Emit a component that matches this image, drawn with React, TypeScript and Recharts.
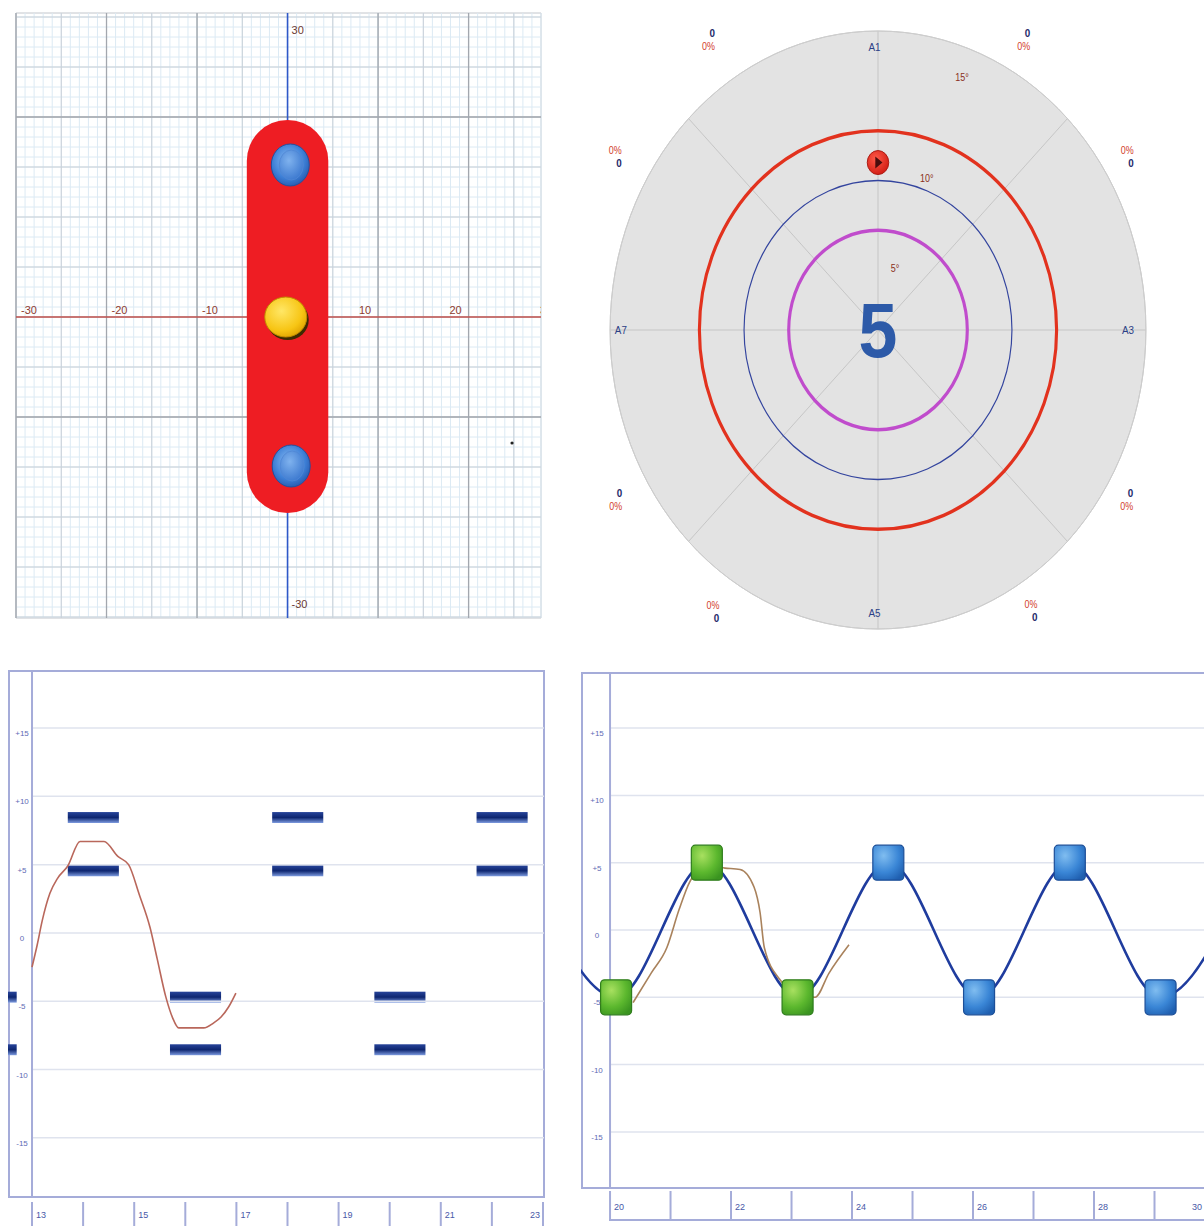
import React from 'react';
import {
  ComposedChart, Line, Scatter, XAxis, YAxis, ReferenceLine, ReferenceArea,
  RadarChart, Radar, PolarGrid, PolarAngleAxis, PolarRadiusAxis, Customized,
} from 'recharts';

const FONT = '"Liberation Sans", Arial, sans-serif';
const FRAME = '#a5acd9';

// ---- top left: position plane ----
const planeXTicks = [-30, -20, -10, 10, 20, 30];
const planeYTicks = [30, -30];
const capsuleX = [-4.5, 4.5];
const capsuleY = [-19.6, 19.7];
const sensorX = [0.3, -0.2, 0.4];
const sensorY = [15.2, 0, -14.9];
const sensorKind = ['end', 'center', 'end'];
const strayX = [24.8];
const strayY = [-12.6];

// ---- top right: tilt target ----
const targetAxes = ['A1', 'A2', 'A3', 'A4', 'A5', 'A6', 'A7', 'A8'];
const labelledAxes = ['A1', 'A3', 'A5', 'A7'];
const markerValue = [16.8, 0, 0, 0, 0, 0, 0, 0];
const ringValues = [10, 15, 20];
const ringLabels = ['5°', '10°', '15°'];
const sectorCounts = [0, 0, 0, 0, 0, 0, 0, 0];
const sectorPercents = [0, 0, 0, 0, 0, 0, 0, 0];
const centerValue = 5;

// ---- bottom left: gate trace ----
const traceAX = [13.0, 13.1, 13.2, 13.35, 13.5, 13.7, 13.94, 14.41, 14.68, 14.89, 15.1, 15.31, 15.45, 15.62, 15.75, 15.87, 16.36, 16.55, 16.7, 16.85, 16.99];
const traceAY = [-2.5, -0.9, 0.9, 2.9, 4.0, 4.9, 6.7, 6.7, 5.6, 5.0, 2.8, 0.4, -1.9, -4.7, -6.2, -6.95, -6.95, -6.6, -6.15, -5.4, -4.4];
const gateStarts = [11.7, 13.7, 15.7, 17.7, 19.7, 21.7];
const gateSide = ['low', 'high', 'low', 'high', 'low', 'high'];
const gateHigh = [8.45, 4.55];
const gateLow = [-4.7, -8.55];
const timeTicksA = [13, 14, 15, 16, 17, 18, 19, 20, 21, 22, 23];

// ---- bottom right: wave trace ----
const waveX = [18.6, 20.1, 21.6, 23.1, 24.6, 26.1, 27.6, 29.1, 30.6];
const waveY = [5, -5, 5, -5, 5, -5, 5, -5, 5];
const stepX = [20.1, 21.6, 23.1, 24.6, 26.1, 27.6, 29.1];
const stepY = [-5, 5, -5, 5, -5, 5, -5];
const stepDone = [true, true, true, false, false, false, false];
const traceBX = [20.38, 20.68, 20.94, 21.14, 21.32, 21.49, 21.7, 21.9, 22.15, 22.38, 22.48, 22.55, 22.81, 23.07, 23.39, 23.62, 23.95];
const traceBY = [-5.4, -3.2, -1.3, 1.5, 3.6, 4.5, 4.7, 4.6, 4.5, 3.2, 1.3, -1.3, -3.7, -4.7, -5.0, -3.2, -1.1];
const timeTicksB = [20, 21, 22, 23, 24, 25, 26, 27, 28, 29, 30];

const levelTicks = [15, 10, 5, 0, -5, -10, -15];

const range = (a: number, b: number, s: number) => {
  const out: number[] = [];
  for (let v = a; v <= b; v += s) out.push(v);
  return out;
};

// ---------- top left ----------
const PLANE_W = 560;
const PLANE_H = 640;
const PLANE_MARGIN = { top: 13, right: 19, bottom: 22, left: 16 };
const PLANE_XDOM: [number, number] = [-30, 28];
const PLANE_YDOM: [number, number] = [-30.1, 30.4];

const Capsule = (p: any) => {
  const r = p.width / 2;
  return <rect x={p.x} y={p.y} width={p.width} height={p.height} rx={r} ry={r} fill="#ee1d23" />;
};

const SensorDot = (p: any) => {
  const { cx, cy, payload } = p;
  if (payload.kind === 'center') {
    return (
      <g>
        <ellipse cx={cx + 2} cy={cy + 3} rx={21} ry={20} fill="#3d2b00" />
        <ellipse cx={cx} cy={cy} rx={21} ry={20} fill="url(#sensorYellow)" stroke="#c08a00" />
      </g>
    );
  }
  return (
    <g>
      <ellipse cx={cx} cy={cy} rx={19} ry={21} fill="url(#sensorBlue)" stroke="#24509e" />
      <ellipse cx={cx + 1} cy={cy} rx={12} ry={15} fill="url(#sensorBlueIn)" stroke="#4f86d4" strokeWidth={0.8} />
    </g>
  );
};

const StrayDot = (p: any) => <circle cx={p.cx} cy={p.cy} r={1.6} fill="#222" />;

const PlaneLabel = (p: any) => {
  const { cx, cy, payload } = p;
  if (payload.axis === 'x') {
    const dx = payload.x < 0 ? 13 : -13;
    return (
      <text x={cx + dx} y={cy - 3} textAnchor="middle" fontSize={11} fill="#8e3b2f" fontFamily={FONT}>
        {payload.text}
      </text>
    );
  }
  const dy = payload.y > 0 ? 13 : -13;
  return (
    <text x={cx + 4} y={cy + dy + 4} fontSize={11} fill="#6e3a33" fontFamily={FONT}>
      {payload.text}
    </text>
  );
};

// paper grid, axes and labels (bottom layer)
function PlaneGrid() {
  const labels = [
    ...planeXTicks.map((x) => ({ x, y: 0, text: String(x), axis: 'x' })),
    ...planeYTicks.map((y) => ({ x: 0, y, text: String(y), axis: 'y' })),
  ];
  const minorX = range(-30, 28, 1);
  const minorY = range(-30, 30, 1);
  const midX = range(-30, 25, 5);
  const midY = range(-30, 30, 5);
  const majorX = [-30, -20, -10, 10, 20];
  const majorY = [20, -10];

  return (
    <ComposedChart width={PLANE_W} height={PLANE_H} margin={PLANE_MARGIN}>
      <XAxis type="number" dataKey="x" domain={PLANE_XDOM} allowDataOverflow hide />
      <YAxis type="number" dataKey="y" domain={PLANE_YDOM} allowDataOverflow hide />
      {minorX.map((v) => <ReferenceLine key={`nx${v}`} x={v} stroke="#dceaf4" />)}
      {minorY.map((v) => <ReferenceLine key={`ny${v}`} y={v} stroke="#dceaf4" />)}
      {midX.map((v) => <ReferenceLine key={`mx${v}`} x={v} stroke="#c9d0d8" />)}
      {midY.map((v) => <ReferenceLine key={`my${v}`} y={v} stroke="#c9d0d8" />)}
      {majorX.map((v) => <ReferenceLine key={`jx${v}`} x={v} stroke="#a3a7ae" strokeWidth={1.3} />)}
      {majorY.map((v) => <ReferenceLine key={`jy${v}`} y={v} stroke="#a3a7ae" strokeWidth={1.3} />)}
      <ReferenceLine y={0} stroke="#c0504d" strokeWidth={1.6} />
      <ReferenceLine x={0} stroke="#2f58c8" strokeWidth={1.6} />
      <ReferenceArea x1={PLANE_XDOM[0]} x2={PLANE_XDOM[1]} y1={PLANE_YDOM[0]} y2={PLANE_YDOM[1]} fill="none" stroke="#c2c6cc" />
      <Scatter data={labels} dataKey="y" shape={PlaneLabel} isAnimationActive={false} />
    </ComposedChart>
  );
}

// link and sensors (top layer, same scales)
function PlaneMarks() {
  const sensors = sensorX.map((x, i) => ({ x, y: sensorY[i], kind: sensorKind[i] }));
  const stray = strayX.map((x, i) => ({ x, y: strayY[i] }));
  return (
    <ComposedChart width={PLANE_W} height={PLANE_H} margin={PLANE_MARGIN}>
      <XAxis type="number" dataKey="x" domain={PLANE_XDOM} allowDataOverflow hide />
      <YAxis type="number" dataKey="y" domain={PLANE_YDOM} allowDataOverflow hide />
      <ReferenceArea x1={capsuleX[0]} x2={capsuleX[1]} y1={capsuleY[0]} y2={capsuleY[1]} shape={Capsule} />
      <Scatter data={stray} dataKey="y" shape={StrayDot} isAnimationActive={false} />
      <Scatter data={sensors} dataKey="y" shape={SensorDot} isAnimationActive={false} />
    </ComposedChart>
  );
}

// ---------- top right ----------
const CX = 350;
const CY = 330;
const R = 299;
const MAX_R = 30;
const ringColors = ['#c04ccc', '#33449e', '#e2321e'];
const ringWidths = [3.5, 1.3, 3.5];
const RING_LABEL_POS = [[64, 17.3], [161, 19.8], [269, 20.4]];
const SECTOR_ANGLES = [29, 58, 121.6, 149, 213.4, 240, 300.4, 326.6];
const SECTOR_RADII = [332, 326, 324, 328, 338, 340, 342, 347];
const COUNT_ON_TOP = [true, false, true, false, false, true, false, true];

const polar = (r: number, deg: number) => ({
  x: CX + r * Math.sin((deg * Math.PI) / 180),
  y: CY - r * Math.cos((deg * Math.PI) / 180),
});

const MarkerDot = (p: any) => {
  const { cx, cy, index } = p;
  if (!markerValue[index]) return <g key={`m${index}`} />;
  return (
    <g key={`m${index}`}>
      <circle cx={cx} cy={cy} r={12} fill="url(#markerRed)" stroke="#a81810" />
      <path d={`M${cx - 3},${cy - 6} L${cx + 5},${cy} L${cx - 3},${cy + 6} Z`} fill="#4a0d0d" />
    </g>
  );
};

const TargetOverlay = () => (
  <g fontFamily={FONT}>
    <text x={CX} y={CY + 27} textAnchor="middle" fontSize={78} fontWeight="bold" fill="#2d5aa8">
      {centerValue}
    </text>
    {ringLabels.map((t, i) => {
      const q = polar(RING_LABEL_POS[i][0], RING_LABEL_POS[i][1]);
      return (
        <text key={t} x={q.x} y={q.y + 3} textAnchor="middle" fontSize={10} fill="#8a3020">
          {t}
        </text>
      );
    })}
    {targetAxes.map((a, i) => {
      if (!labelledAxes.includes(a)) return null;
      const q = polar(283, i * 45);
      return (
        <text key={a} x={q.x - 4} y={q.y + 4} textAnchor="middle" fontSize={11} fill="#2b3f86">
          {a}
        </text>
      );
    })}
    {SECTOR_ANGLES.map((ang, i) => {
      const q = polar(SECTOR_RADII[i], ang);
      const top = q.y - 3;
      const bottom = q.y + 10;
      const countY = COUNT_ON_TOP[i] ? top : bottom;
      const pctY = COUNT_ON_TOP[i] ? bottom : top;
      return (
        <g key={`s${i}`}>
          <text x={q.x + 9} y={countY} textAnchor="end" fontSize={11} fontWeight="bold" fill="#1e2a6a">
            {sectorCounts[i]}
          </text>
          <text x={q.x + 9} y={pctY} textAnchor="end" fontSize={10} fill="#d2402c">
            {`${sectorPercents[i]}%`}
          </text>
        </g>
      );
    })}
  </g>
);

function TargetChart() {
  const data = targetAxes.map((a, i) => ({ axis: a, marker: markerValue[i] }));
  return (
    <div
      style={{
        position: 'absolute', left: 878 - CX, top: 0, width: 700, height: 660,
        transform: 'scaleX(0.896)', transformOrigin: `${CX}px ${CY}px`,
      }}
    >
      <div
        style={{
          position: 'absolute', left: CX - R, top: CY - R, width: 2 * R, height: 2 * R,
          borderRadius: '50%', background: '#e3e3e3',
        }}
      />
      <div style={{ position: 'absolute', left: 0, top: 0 }}>
        <RadarChart width={700} height={660} cx={CX} cy={CY} outerRadius={R} data={data} margin={{ top: 0, right: 0, bottom: 0, left: 0 }}>
          <PolarGrid gridType="circle" polarRadius={[R]} stroke="#c4c4c4" />
          {ringValues.map((v, i) => (
            <PolarGrid
              key={`ring${v}`}
              gridType="circle"
              radialLines={false}
              polarRadius={[(R * v) / MAX_R]}
              stroke={ringColors[i]}
              strokeWidth={ringWidths[i]}
            />
          ))}
          <PolarAngleAxis dataKey="axis" tick={false} tickLine={false} axisLineType="circle" stroke="#cdcdcd" />
          <PolarRadiusAxis domain={[0, MAX_R]} tick={false} axisLine={false} />
          <Customized component={TargetOverlay} />
          <Radar dataKey="marker" stroke="none" fill="none" dot={MarkerDot} isAnimationActive={false} />
        </RadarChart>
      </div>
    </div>
  );
}

// ---------- bottom panels ----------
const fmtLevel = (v: number) => (v > 0 ? `+${v}` : `${v}`);

const LevelTick = (p: any) => (
  <text x={p.lx} y={p.y + 8} textAnchor="middle" fontSize={8} fill="#5f6bb5" fontFamily={FONT}>
    {fmtLevel(p.payload.value)}
  </text>
);

const TimeTick = (p: any) => {
  const { x, y, payload, odd, last, lastShift, t0, t1, ty } = p;
  const v = payload.value;
  const show = odd ? v % 2 === 1 : v % 2 === 0;
  const isLast = v === last;
  return (
    <g>
      <line x1={x} x2={x} y1={y + t0} y2={y + t1} stroke={FRAME} strokeWidth={2} />
      {show && (
        <text
          x={isLast ? x - lastShift : x + 4}
          y={y + ty}
          textAnchor={isLast ? 'end' : 'start'}
          fontSize={9}
          fill="#4858a8"
          fontFamily={FONT}
        >
          {v}
        </text>
      )}
    </g>
  );
};

const GateBar = (p: any) => (
  <rect x={p.x} y={p.y} width={p.width} height={p.height} fill="url(#gateGrad)" />
);

function GateChart() {
  const trace = traceAX.map((x, i) => ({ x, y: traceAY[i] }));
  const gates = gateStarts.flatMap((x0, i) =>
    (gateSide[i] === 'high' ? gateHigh : gateLow).map((y) => ({ x0, y })),
  );
  return (
    <ComposedChart width={536} height={556} margin={{ top: 0, right: 0, bottom: 0, left: 0 }}>
      <XAxis
        type="number" dataKey="x" domain={[12.53, 23.02]} allowDataOverflow
        ticks={timeTicksA} interval={0} height={29} tickSize={0} tickMargin={0}
        axisLine={{ stroke: FRAME, strokeWidth: 2 }} tickLine={false}
        tick={(p: any) => <TimeTick {...p} odd last={23} lastShift={3} t0={5} t1={29} ty={21} />}
      />
      <YAxis
        type="number" dataKey="y" domain={[-19.33, 19.25]} allowDataOverflow
        ticks={levelTicks} interval={0} mirror axisLine={false} tickLine={false}
        tick={(p: any) => <LevelTick {...p} lx={14} />}
      />
      {levelTicks.map((v) => (
        <ReferenceLine key={`g${v}`} segment={[{ x: 13, y: v }, { x: 23.02, y: v }]} stroke="#dfe3ee" strokeWidth={1.5} />
      ))}
      <ReferenceLine x={13} stroke={FRAME} strokeWidth={2} />
      {gates.map((g, i) => (
        <ReferenceArea
          key={`bar${i}`} x1={g.x0} x2={g.x0 + 1} y1={g.y - 0.4} y2={g.y + 0.4}
          ifOverflow="hidden" shape={GateBar}
        />
      ))}
      <Line data={trace} dataKey="y" type="monotone" stroke="#b9675b" strokeWidth={1.6} dot={false} isAnimationActive={false} />
    </ComposedChart>
  );
}

const StepSquare = (p: any) => {
  const { cx, cy, payload } = p;
  const done = payload.done;
  return (
    <rect
      x={cx - 15.5} y={cy - 17.5} width={31} height={35} rx={4}
      fill={done ? 'url(#sqGreen)' : 'url(#sqBlue)'}
      stroke={done ? '#2f7d1c' : '#1d4f98'} strokeWidth={1.2}
    />
  );
};

function WaveChart() {
  const wave = waveX.map((x, i) => ({ x, y: waveY[i] }));
  const steps = stepX.map((x, i) => ({ x, y: stepY[i], done: stepDone[i] }));
  const trace = traceBX.map((x, i) => ({ x, y: traceBY[i] }));
  return (
    <ComposedChart width={634} height={554} margin={{ top: 0, right: 0, bottom: 0, left: 0 }}>
      <XAxis
        type="number" dataKey="x" domain={[19.52, 30]} allowDataOverflow
        ticks={timeTicksB} interval={0} height={38} tickSize={0} tickMargin={0}
        axisLine={{ stroke: FRAME, strokeWidth: 2 }} tickLine={false}
        tick={(p: any) => <TimeTick {...p} odd={false} last={30} lastShift={13} t0={3} t1={31} ty={22} />}
      />
      <YAxis
        type="number" dataKey="y" domain={[-19.17, 19.17]} allowDataOverflow
        ticks={levelTicks} interval={0} mirror axisLine={false} tickLine={false}
        tick={(p: any) => <LevelTick {...p} lx={16} />}
      />
      {levelTicks.map((v) => (
        <ReferenceLine key={`g${v}`} segment={[{ x: 20, y: v }, { x: 30, y: v }]} stroke="#dfe3ee" strokeWidth={1.5} />
      ))}
      <ReferenceLine x={20} stroke={FRAME} strokeWidth={2} />
      <Line data={wave} dataKey="y" type="monotone" stroke="#1f3c9e" strokeWidth={2.6} dot={false} isAnimationActive={false} />
      <Line data={trace} dataKey="y" type="monotone" stroke="#a9825c" strokeWidth={1.6} dot={false} isAnimationActive={false} />
      <Scatter data={steps} dataKey="y" shape={StepSquare} isAnimationActive={false} />
    </ComposedChart>
  );
}

function Gradients() {
  return (
    <svg width={0} height={0} style={{ position: 'absolute' }}>
      <defs>
        <radialGradient id="sensorBlue" cx="45%" cy="40%" r="60%">
          <stop offset="0%" stopColor="#8fc0f5" />
          <stop offset="70%" stopColor="#3d7fd6" />
          <stop offset="100%" stopColor="#2a5fb5" />
        </radialGradient>
        <radialGradient id="sensorBlueIn" cx="40%" cy="35%" r="70%">
          <stop offset="0%" stopColor="#7fb2ee" />
          <stop offset="100%" stopColor="#3b78cf" />
        </radialGradient>
        <radialGradient id="sensorYellow" cx="40%" cy="35%" r="70%">
          <stop offset="0%" stopColor="#ffe766" />
          <stop offset="70%" stopColor="#f7c514" />
          <stop offset="100%" stopColor="#e0a200" />
        </radialGradient>
        <radialGradient id="markerRed" cx="40%" cy="35%" r="70%">
          <stop offset="0%" stopColor="#ff5a48" />
          <stop offset="100%" stopColor="#d01a12" />
        </radialGradient>
        <linearGradient id="gateGrad" x1="0" y1="0" x2="0" y2="1">
          <stop offset="0%" stopColor="#27449a" />
          <stop offset="50%" stopColor="#0e2670" />
          <stop offset="100%" stopColor="#7d9be0" />
        </linearGradient>
        <radialGradient id="sqGreen" cx="35%" cy="30%" r="80%">
          <stop offset="0%" stopColor="#a8e060" />
          <stop offset="60%" stopColor="#5cb82e" />
          <stop offset="100%" stopColor="#3a9420" />
        </radialGradient>
        <radialGradient id="sqBlue" cx="35%" cy="30%" r="80%">
          <stop offset="0%" stopColor="#80bdf0" />
          <stop offset="60%" stopColor="#3a86d6" />
          <stop offset="100%" stopColor="#1f5fb0" />
        </radialGradient>
      </defs>
    </svg>
  );
}

export default function App() {
  return (
    <div
      style={{
        position: 'absolute', left: 0, top: 0, width: 1204, height: 1226,
        overflow: 'hidden', background: '#ffffff', fontFamily: FONT,
      }}
    >
      <Gradients />
      <div style={{ position: 'absolute', left: 0, top: 0 }}>
        <PlaneGrid />
      </div>
      <div style={{ position: 'absolute', left: 0, top: 0 }}>
        <PlaneMarks />
      </div>
      <TargetChart />
      <div style={{ position: 'absolute', left: 8, top: 670, width: 537, height: 528, border: `2px solid ${FRAME}`, boxSizing: 'border-box' }} />
      <div style={{ position: 'absolute', left: 8, top: 670 }}>
        <GateChart />
      </div>
      <div style={{ position: 'absolute', left: 581, top: 672, width: 640, height: 517, border: `2px solid ${FRAME}`, boxSizing: 'border-box' }} />
      <div style={{ position: 'absolute', left: 609, top: 1219, width: 700, height: 2, background: FRAME }} />
      <div style={{ position: 'absolute', left: 581, top: 672 }}>
        <WaveChart />
      </div>
    </div>
  );
}
